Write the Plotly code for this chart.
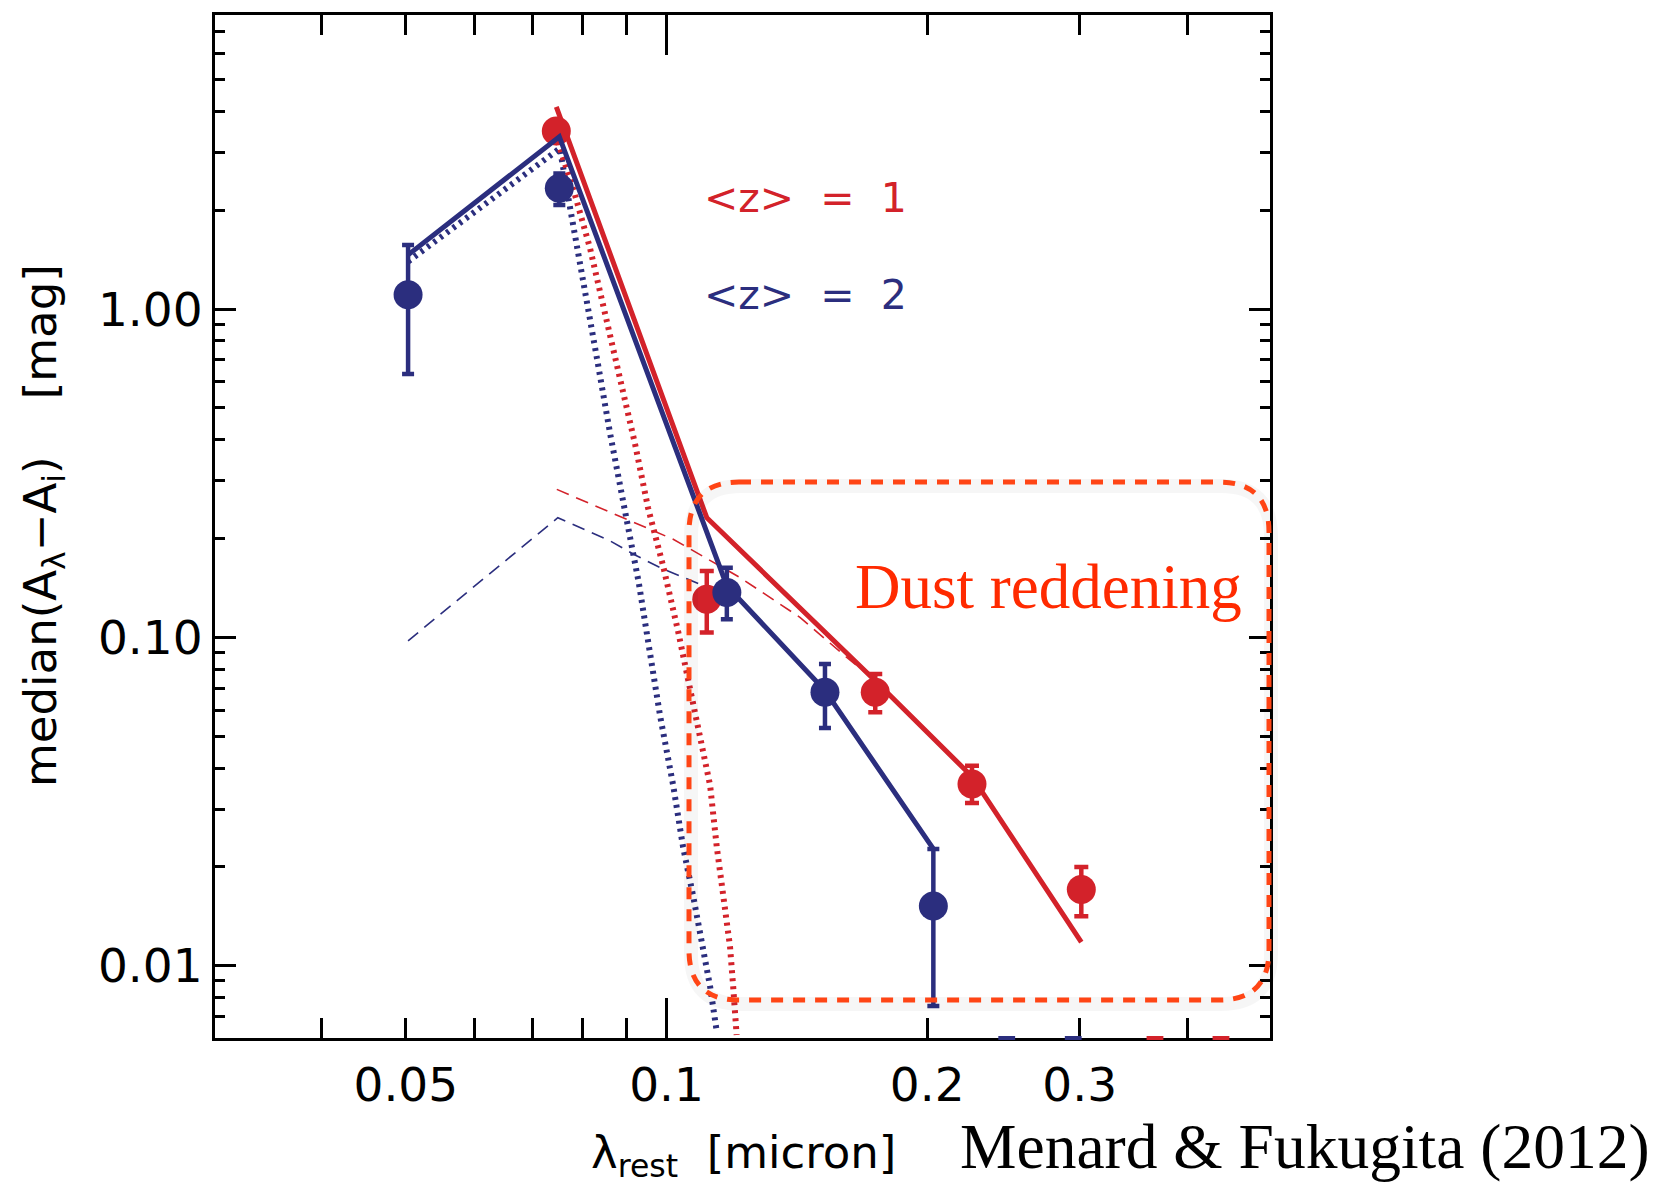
import plotly.graph_objects as go

# ---------------- data ----------------
# <z> = 2 (navy)
blue_x = [0.0503, 0.0752, 0.1174, 0.1524, 0.2033]
blue_y = [1.106, 2.332, 0.1370, 0.0681, 0.0152]
blue_err_hi = [1.569, 2.590, 0.163, 0.0830, 0.0227]
blue_err_lo = [0.6345, 2.076, 0.1137, 0.0530, 0.00754]
blue_model_x = [0.0503, 0.0752, 0.1174, 0.1524, 0.2033]
blue_model_y = [1.463, 3.35, 0.1436, 0.0689, 0.0227]

# <z> = 1 (red)
red_x = [0.0746, 0.1113, 0.1742, 0.2253, 0.3013]
red_y = [3.485, 0.1308, 0.0681, 0.0358, 0.01707]
red_err_hi = [3.60, 0.1595, 0.0774, 0.0407, 0.0200]
red_err_lo = [3.37, 0.1036, 0.0592, 0.0313, 0.01416]
red_model_x = [0.0746, 0.1113, 0.1742, 0.2253, 0.3013]
red_model_y = [4.13, 0.2316, 0.0738, 0.0377, 0.0118]

# dotted model components
blue_dot_x = [0.0503, 0.0753, 0.0774, 0.0801, 0.0831, 0.0861, 0.0900, 0.0929,
              0.0954, 0.0983, 0.1018, 0.1045, 0.1074, 0.1103, 0.1123, 0.1143]
blue_dot_y = [1.396, 3.086, 2.028, 1.242, 0.7097, 0.4159, 0.2263, 0.1466,
              0.0944, 0.0578, 0.0354, 0.0230, 0.0162, 0.01143, 0.00863, 0.0063]
red_dot_x = [0.0749, 0.0784, 0.0816, 0.0845, 0.0884, 0.0920, 0.0952, 0.0991,
             0.1031, 0.1071, 0.1123, 0.1143, 0.1163, 0.1184, 0.1194, 0.1205]
red_dot_y = [3.234, 2.227, 1.532, 1.031, 0.617, 0.387, 0.2484, 0.1652,
             0.1048, 0.0642, 0.0354, 0.0230, 0.0162, 0.01143, 0.00863, 0.00616]

# thin dashed model components
blue_dash_x = [0.0503, 0.0749, 0.0861, 0.0916, 0.0983, 0.1045, 0.1093, 0.1174]
blue_dash_y = [0.0977, 0.2316, 0.1967, 0.1793, 0.1632, 0.1522, 0.1453, 0.1387]
red_dash_x = [0.0747, 0.0845, 0.1018, 0.1216, 0.1427, 0.1615, 0.1742]
red_dash_y = [0.2825, 0.2456, 0.1991, 0.1522, 0.1150, 0.0869, 0.0740]

# small coloured marks sitting on the bottom axis
axis_mark_blue_x = [0.2471, 0.2949]
axis_mark_red_x = [0.3665, 0.4368]

# axes
x_range_log = [-1.5214, -0.3031]
y_range_log = [-2.2198, 0.8957]
x_tick_vals = [0.05, 0.1, 0.2, 0.3]
x_tick_text = ["0.05", "0.1", "0.2", "0.3"]
x_minor_vals = [0.04, 0.06, 0.07, 0.08, 0.09, 0.4]
y_tick_vals = [0.01, 0.1, 1.0]
y_tick_text = ["0.01", "0.10", "1.00"]
y_minor_vals = [0.007, 0.008, 0.009,
                0.02, 0.03, 0.04, 0.05, 0.06, 0.07, 0.08, 0.09,
                0.2, 0.3, 0.4, 0.5, 0.6, 0.7, 0.8, 0.9,
                2, 3, 4, 5, 6, 7]

RED = "#D3222A"
NAVY = "#2B2E7E"
ORANGE = "#FF4515"
DUSTTXT = "#FF2A00"
SANS = "DejaVu Sans"
SERIF = "Liberation Serif"

W, H = 1664, 1183
L, R, T, B = 215, 1270, 13, 1038  # plot area in px

fig = go.Figure()

# thin dashed
fig.add_trace(go.Scatter(x=blue_dash_x, y=blue_dash_y, mode="lines",
                         line=dict(color=NAVY, width=1.6, dash="13px,8px")))
fig.add_trace(go.Scatter(x=red_dash_x, y=red_dash_y, mode="lines",
                         line=dict(color=RED, width=1.6, dash="13px,8px")))
# dotted
fig.add_trace(go.Scatter(x=blue_dot_x, y=blue_dot_y, mode="lines",
                         line=dict(color=NAVY, width=6, dash="3px,5px")))
fig.add_trace(go.Scatter(x=red_dot_x, y=red_dot_y, mode="lines",
                         line=dict(color=RED, width=6, dash="3px,5px")))

# red series
fig.add_trace(go.Scatter(x=red_model_x, y=red_model_y, mode="lines",
                         line=dict(color=RED, width=5)))
fig.add_trace(go.Scatter(
    x=red_x, y=red_y, mode="markers",
    marker=dict(color=RED, size=29),
    error_y=dict(type="data", symmetric=False,
                 array=[h - v for h, v in zip(red_err_hi, red_y)],
                 arrayminus=[v - l for l, v in zip(red_err_lo, red_y)],
                 color=RED, thickness=4.5, width=7)))

# blue series
fig.add_trace(go.Scatter(x=blue_model_x, y=blue_model_y, mode="lines",
                         line=dict(color=NAVY, width=5)))
fig.add_trace(go.Scatter(
    x=blue_x, y=blue_y, mode="markers",
    marker=dict(color=NAVY, size=29),
    error_y=dict(type="data", symmetric=False,
                 array=[h - v for h, v in zip(blue_err_hi, blue_y)],
                 arrayminus=[v - l for l, v in zip(blue_err_lo, blue_y)],
                 color=NAVY, thickness=4.5, width=6)))

# coloured marks on the bottom axis
ybot = 10 ** y_range_log[0]
fig.add_trace(go.Scatter(x=axis_mark_blue_x, y=[ybot] * len(axis_mark_blue_x),
                         mode="markers", cliponaxis=False,
                         marker=dict(symbol="line-ew", size=12,
                                     line=dict(color=NAVY, width=4))))
fig.add_trace(go.Scatter(x=axis_mark_red_x, y=[ybot] * len(axis_mark_red_x),
                         mode="markers", cliponaxis=False,
                         marker=dict(symbol="line-ew", size=12,
                                     line=dict(color=RED, width=4))))
# anchor trace for overlay axis carrying the long 0.1 tick
fig.add_trace(go.Scatter(x=[], y=[], xaxis="x2", yaxis="y", mode="markers"))

# rounded dashed box (paper coords)
def px(xp):
    return (xp - L) / (R - L)


def py(yp):
    return (B - yp) / (B - T)


def rounded_path(bl, br, bt, bb, rad, dx=0, dy=0):
    bl, br, bt, bb = bl + dx, br + dx, bt + dy, bb + dy
    return (f"M {px(bl+rad)},{py(bt)} L {px(br-rad)},{py(bt)} "
            f"Q {px(br)},{py(bt)} {px(br)},{py(bt+rad)} "
            f"L {px(br)},{py(bb-rad)} Q {px(br)},{py(bb)} {px(br-rad)},{py(bb)} "
            f"L {px(bl+rad)},{py(bb)} Q {px(bl)},{py(bb)} {px(bl)},{py(bb-rad)} "
            f"L {px(bl)},{py(bt+rad)} Q {px(bl)},{py(bt)} {px(bl+rad)},{py(bt)} Z")


box = (689, 1269, 481, 1000, 50)
fig.add_shape(type="path", path=rounded_path(*box, dx=2, dy=4), xref="paper", yref="paper",
              line=dict(color="rgba(0,0,0,0.035)", width=14), layer="above")
fig.add_shape(type="path", path=rounded_path(*box), xref="paper", yref="paper",
              line=dict(color=ORANGE, width=5, dash="12px,10px"), layer="above")

annos = [
    dict(text="&lt;z&gt;  =  1", x=px(702), y=py(196), xanchor="left", yanchor="middle",
         font=dict(family=SANS, size=41, color=RED)),
    dict(text="&lt;z&gt;  =  2", x=px(702), y=py(294), xanchor="left", yanchor="middle",
         font=dict(family=SANS, size=41, color=NAVY)),
    dict(text="Dust reddening", x=px(853), y=py(586), xanchor="left", yanchor="middle",
         font=dict(family=SERIF, size=63, color=DUSTTXT)),
    dict(text="Menard &amp; Fukugita (2012)", x=px(958), y=py(1147), xanchor="left",
         yanchor="middle", font=dict(family=SERIF, size=63.5, color="black")),
    dict(text="λ<sub>rest</sub>\u00a0\u00a0[micron]", x=px(743), y=py(1155),
         xanchor="center", yanchor="middle",
         font=dict(family=SANS, size=45, color="black")),
    dict(text="median(A<sub>λ</sub>−A<sub>i</sub>)\u00a0\u00a0\u00a0\u00a0[mag]",
         x=px(43), y=py(525), xanchor="center", yanchor="middle", textangle=-90,
         font=dict(family=SANS, size=45, color="black")),
]
for a in annos:
    a.update(xref="paper", yref="paper", showarrow=False)
fig.update_layout(annotations=annos)

axis_common = dict(showgrid=False, zeroline=False, ticks="inside",
                   tickcolor="black", linecolor="black", layer="below traces")
fig.update_layout(
    width=W, height=H, showlegend=False,
    paper_bgcolor="white", plot_bgcolor="white",
    margin=dict(l=L, r=W - R, t=T, b=H - B),
    xaxis=dict(type="log", range=x_range_log, tickmode="array",
               tickvals=x_tick_vals, ticktext=x_tick_text,
               ticklen=20, tickwidth=2.5, showline=True, linewidth=3,
               mirror="ticks", ticklabelstandoff=4,
               tickfont=dict(family=SANS, size=47, color="black"),
               minor=dict(tickmode="array", tickvals=x_minor_vals, ticks="inside",
                          ticklen=20, tickwidth=2.5, tickcolor="black"),
               **axis_common),
    xaxis2=dict(type="log", range=x_range_log, overlaying="x", anchor="y",
                side="bottom", tickmode="array", tickvals=[0.1],
                ticks="inside", ticklen=40, tickwidth=2.5, tickcolor="black",
                showticklabels=False, showline=False, mirror="ticks",
                showgrid=False, zeroline=False),
    yaxis=dict(type="log", range=y_range_log, tickmode="array",
               tickvals=y_tick_vals, ticktext=y_tick_text,
               ticklen=21, tickwidth=2.5, showline=True, linewidth=3,
               mirror="ticks", ticklabelstandoff=0,
               tickfont=dict(family=SANS, size=47, color="black"),
               minor=dict(tickmode="array", tickvals=y_minor_vals, ticks="inside",
                          ticklen=10, tickwidth=2.5, tickcolor="black"),
               **axis_common),
)

fig.write_html("out.html")
